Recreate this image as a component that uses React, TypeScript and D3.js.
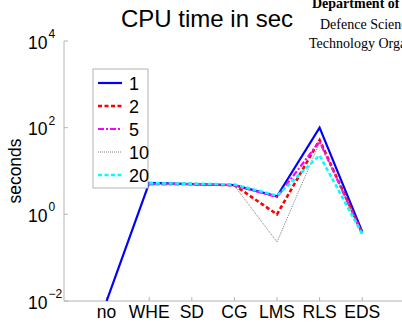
import React from "react";
import * as d3 from "d3";

const categories = ["no", "WHE", "SD", "CG", "LMS", "RLS", "EDS"];
const seriesNames = ["1", "2", "5", "10", "20"];
const s1 = [0.01, 5.3, 5.0, 4.7, 2.6, 100, 0.4];
const s2 = [null, 5.0, 5.0, 4.7, 1.0, 52, 0.37];
const s5 = [null, 5.0, 5.0, 4.7, 2.5, 48, 0.36];
const s10 = [null, 5.0, 5.0, 4.6, 0.23, 45, 0.36];
const s20 = [null, 5.2, 5.1, 4.9, 2.7, 23, 0.35];
const yTickExps = [-2, 0, 2, 4];
const titleText = "CPU time in sec";
const yLabel = "seconds";
const watermark = ["Department of", "Defence Science and", "Technology Organisation"];

const W = 402;
const H = 322;

const styles = [
  { color: "#0000ff", width: 2.2, dash: "" },
  { color: "#ff0000", width: 2.6, dash: "4,2.5" },
  { color: "#ff00ff", width: 2.2, dash: "6,2,2,2" },
  { color: "#7f7f7f", width: 1, dash: "1,1" },
  { color: "#00ffff", width: 2.6, dash: "4,2.5" },
];

export default function App() {
  const x = d3.scaleLinear().domain([0, 8]).range([64, 404.8]);
  const y = d3.scaleLog().domain([1e-2, 1e4]).range([301, 41]);
  const data = [s1, s2, s5, s10, s20];
  const line = d3
    .line<number | null>()
    .defined((d) => d != null)
    .x((_, i) => x(i + 1))
    .y((d) => y(d as number));
  const axisColor = "#b4b4b4";
  const font = "Liberation Sans, Arial, sans-serif";
  const serif = "Liberation Serif, Times New Roman, serif";
  const legX = 93, legY = 69, legW = 55, legH = 119;

  return (
    <svg
      width={W}
      height={H}
      style={{ position: "fixed", left: 0, top: 0, background: "#fff" }}
    >
      <rect x={0} y={0} width={W} height={H} fill="#fff" />
      <defs>
        <clipPath id="plot">
          <rect x={64} y={41} width={W - 64} height={260} />
        </clipPath>
      </defs>
      {/* watermark */}
      <text x={312} y={8} fontFamily={serif} fontWeight="bold" fontSize={14} fill="#000">
        {watermark[0]}
      </text>
      <text x={320} y={29} fontFamily={serif} fontSize={14} fill="#000">
        {watermark[1]}
      </text>
      <text x={309} y={48} fontFamily={serif} fontSize={14} fill="#000">
        {watermark[2]}
      </text>
      {/* title */}
      <text x={207} y={27} textAnchor="middle" fontFamily={font} fontSize={24} fill="#000">
        {titleText}
      </text>
      {/* axes */}
      <line x1={64} y1={41} x2={64} y2={301} stroke={axisColor} strokeWidth={1} />
      <line x1={64} y1={301} x2={W} y2={301} stroke={axisColor} strokeWidth={1} />
      {yTickExps.map((e) => (
        <g key={e}>
          <line x1={64} x2={68} y1={y(Math.pow(10, e))} y2={y(Math.pow(10, e))} stroke={axisColor} />
          <text x={47.5} y={y(Math.pow(10, e)) + 7.5} textAnchor="end" fontFamily={font} fontSize={17.5}>
            10
          </text>
          <text x={48.5} y={y(Math.pow(10, e)) - 3} fontFamily={font} fontSize={12}>
            {e < 0 ? "\u2212" + Math.abs(e) : String(e)}
          </text>
        </g>
      ))}
      {categories.map((c, i) => (
        <g key={c}>
          <line x1={x(i + 1)} x2={x(i + 1)} y1={301} y2={297} stroke={axisColor} />
          <text x={x(i + 1)} y={318} textAnchor="middle" fontFamily={font} fontSize={17.5}>
            {c}
          </text>
        </g>
      ))}
      <text
        transform={`translate(21,171) rotate(-90)`}
        textAnchor="middle"
        fontFamily={font}
        fontSize={17.5}
      >
        {yLabel}
      </text>
      {/* lines */}
      <g clipPath="url(#plot)">
        {data.map((d, k) => (
          <path
            key={k}
            d={line(d) || ""}
            fill="none"
            stroke={styles[k].color}
            strokeWidth={styles[k].width}
            strokeDasharray={styles[k].dash || undefined}
            strokeLinejoin="miter"
          />
        ))}
      </g>
      {/* legend */}
      <rect x={legX} y={legY} width={legW} height={legH} fill="#fff" stroke={axisColor} />
      {seriesNames.map((n, k) => {
        const cy = 83 + k * 23;
        return (
          <g key={n}>
            <line
              x1={98}
              x2={122}
              y1={cy}
              y2={cy}
              stroke={styles[k].color}
              strokeWidth={styles[k].width}
              strokeDasharray={styles[k].dash || undefined}
            />
            <text x={129} y={cy + 6.5} fontFamily={font} fontSize={18}>
              {n}
            </text>
          </g>
        );
      })}
    </svg>
  );
}
